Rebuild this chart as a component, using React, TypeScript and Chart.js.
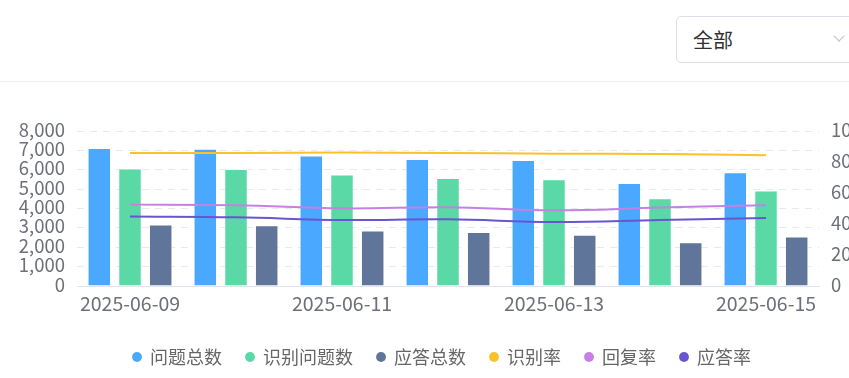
import React, { useEffect, useRef } from "react";
import { Chart, registerables } from "chart.js";

Chart.register(...registerables);

const categories = ["2025-06-09", "2025-06-10", "2025-06-11", "2025-06-12", "2025-06-13", "2025-06-14", "2025-06-15"];
const totalQuestions = [7120, 7090, 6730, 6555, 6500, 5315, 5870];
const identifiedQuestions = [6060, 6040, 5750, 5575, 5505, 4525, 4925];
const totalAnswers = [3170, 3130, 2860, 2790, 2650, 2255, 2550];
const identifyRate = [85.8, 85.8, 86.1, 85.8, 85.4, 85.2, 84.3];
const replyRate = [52.5, 52.1, 50.1, 50.8, 48.8, 50.6, 52.1];
const answerRate = [44.8, 44.3, 42.6, 43.0, 41.3, 42.6, 43.9];
const seriesNames = ["问题总数", "识别问题数", "应答总数", "识别率", "回复率", "应答率"];
const seriesColors = ["#4aa8fe", "#5ad8a6", "#5f7599", "#f9c12a", "#c680e4", "#6a55d0"];
const selectLabel = "全部";

const FONT = '"Noto Sans CJK SC", "Noto Sans", sans-serif';

function ChartCanvas() {
  const ref = useRef<HTMLCanvasElement | null>(null);
  useEffect(() => {
    if (!ref.current) return;
    const barDs = (i: number, data: number[]) => ({
      type: "bar" as const,
      label: seriesNames[i],
      data,
      backgroundColor: seriesColors[i],
      borderColor: "rgba(255,255,255,0.45)",
      borderWidth: 1,
      yAxisID: "y",
      order: 2,
      categoryPercentage: 0.869,
      barPercentage: 0.765,
    });
    const lineDs = (i: number, data: number[]) => ({
      type: "line" as const,
      label: seriesNames[i],
      data,
      borderColor: seriesColors[i],
      backgroundColor: seriesColors[i],
      borderWidth: 2,
      pointRadius: 0,
      tension: 0.4,
      yAxisID: "y1",
      order: 1,
    });
    const chart = new Chart(ref.current, {
      type: "bar",
      data: {
        labels: categories,
        datasets: [
          barDs(0, totalQuestions),
          barDs(1, identifiedQuestions),
          barDs(2, totalAnswers),
          lineDs(3, identifyRate),
          lineDs(4, replyRate),
          lineDs(5, answerRate),
        ] as any,
      },
      options: {
        animation: false,
        responsive: false,
        layout: { padding: { left: 0, right: 0, top: 31, bottom: 2 } },
        plugins: {
          tooltip: { enabled: false },
          legend: {
            position: "bottom",
            labels: {
              font: { family: FONT, size: 18 },
              color: "#666",
              usePointStyle: true,
              boxWidth: 8,
              boxHeight: 7,
              padding: 24,
              generateLabels: (c: any) =>
                c.data.datasets.map((ds: any, i: number) => ({
                  text: ds.label,
                  fillStyle: seriesColors[i],
                  strokeStyle: seriesColors[i],
                  lineWidth: 0,
                  pointStyle: "circle",
                  datasetIndex: i,
                  hidden: false,
                  fontColor: "#666",
                })),
            },
          },
        },
        scales: {
          x: {
            grid: { display: false },
            border: { display: true, color: "#e0e6f1", width: 1 },
            ticks: {
              autoSkip: false,
              maxRotation: 0,
              color: "#6e7079",
              font: { family: FONT, size: 19.5 },
              padding: -2,
              callback: (_v: any, i: number) => (i % 2 === 0 ? categories[i] : ""),
            },
            afterFit: (s: any) => {
              s.height = 38;
            },
          },
          y: {
            position: "left",
            min: 0,
            max: 8000,
            ticks: {
              autoSkip: false,
              stepSize: 1000,
              color: "#6e7079",
              font: { family: FONT, size: 18.5 },
              padding: 12,
              labelOffset: -1.5,
              callback: (v: any) => Number(v).toLocaleString("en-US"),
            },
            grid: { color: "#e6e9ef", drawTicks: false, lineWidth: 1 },
            border: { display: false, dash: [7, 6] },
            afterFit: (s: any) => {
              s.width = 77;
            },
          },
          y1: {
            position: "right",
            min: 0,
            max: 100,
            ticks: {
              autoSkip: false,
              stepSize: 20,
              color: "#6e7079",
              font: { family: FONT, size: 18.5 },
              padding: 12,
              labelOffset: -1.5,
            },
            grid: { display: false, drawTicks: false },
            border: { display: false },
            afterFit: (s: any) => {
              s.width = 65;
            },
          },
        },
      } as any,
    });
    return () => chart.destroy();
  }, []);
  return <canvas ref={ref} width={884} height={278} style={{ width: 884, height: 278, display: "block" }} />;
}

export default function App() {
  return (
    <div
      style={{
        position: "fixed",
        left: 0,
        top: 0,
        width: 849,
        height: 378,
        overflow: "hidden",
        background: "#fff",
        fontFamily: FONT,
      }}
    >
      <div
        style={{
          position: "absolute",
          left: 676,
          top: 16,
          width: 220,
          height: 47,
          border: "1px solid #dcdfe6",
          borderRadius: 5,
          boxSizing: "border-box",
        }}
      >
        <span
          style={{
            position: "absolute",
            left: 16,
            top: 0,
            lineHeight: "45px",
            fontSize: 20,
            color: "#303133",
          }}
        >
          {selectLabel}
        </span>
        <div
          style={{
            position: "absolute",
            left: 158,
            top: 15,
            width: 7,
            height: 7,
            borderRight: "1.5px solid #c0c4cc",
            borderBottom: "1.5px solid #c0c4cc",
            transform: "rotate(45deg)",
          }}
        />
      </div>
      <div style={{ position: "absolute", left: 0, top: 81, width: 849, height: 1, background: "#ebeef2" }} />
      <div style={{ position: "absolute", left: 0, top: 100 }}>
        <ChartCanvas />
      </div>
    </div>
  );
}
